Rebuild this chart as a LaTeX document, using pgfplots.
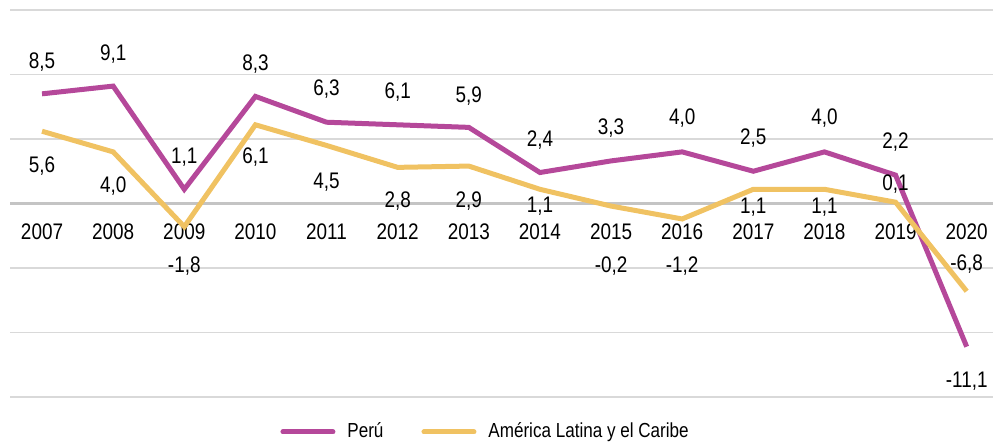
\documentclass[border=0pt]{standalone}
\usepackage{fontspec}
\setmainfont[FakeStretch=0.84]{Liberation Sans}
\usepackage{pgfplots}
\usepackage{pgfplotstable}
\pgfplotsset{compat=1.18}

\definecolor{peru}{HTML}{B5489A}
\definecolor{alc}{HTML}{F0C262}
\definecolor{gridc}{HTML}{D9D9D9}
\definecolor{zeroc}{HTML}{C4C4C4}

% years are plotted at 0..13 (2007..2020)
\pgfplotstableread{
x y
0 8.5
1 9.1
2 1.1
3 8.3
4 6.3
5 6.1
6 5.9
7 2.4
8 3.3
9 4.0
10 2.5
11 4.0
12 2.2
13 -11.1
}\tperu

\pgfplotstableread{
x y
0 5.6
1 4.0
2 -1.8
3 6.1
4 4.5
5 2.8
6 2.9
7 1.1
8 -0.2
9 -1.2
10 1.1
11 1.1
12 0.1
13 -6.8
}\talc

% label positions (data units) and texts
\pgfplotstableread{
x y lab
0 11.0 8,5
1 11.55 9,1
2 3.57 1,1
3 10.78 8,3
4 8.84 6,3
5 8.6 6,1
6 8.3 5,9
7 4.88 2,4
8 5.81 3,3
9 6.59 4,0
10 5.04 2,5
11 6.59 4,0
12 4.73 2,2
13 -13.8 -11,1
}\lperu

\pgfplotstableread{
x y lab
0 2.87 5,6
1 1.32 4,0
2 -4.88 -1,8
3 3.57 6,1
4 1.63 4,5
5 0.16 2,8
6 0.16 2,9
7 -0.23 1,1
8 -4.88 -0,2
9 -4.88 -1,2
10 -0.31 1,1
11 -0.31 1,1
12 1.47 0,1
13 -4.73 -6,8
}\lalc

\begin{document}
\begin{tikzpicture}
\begin{axis}[
    width=491.5bp, height=193.5bp, scale only axis,
    xmin=-0.45, xmax=13.37, ymin=-15, ymax=15,
    axis x line*=middle, axis y line*=left,
    axis line style={draw=none},
    xtick={0,...,13},
    xticklabels={2007,2008,2009,2010,2011,2012,2013,2014,2015,2016,2017,2018,2019,2020},
    xticklabel style={anchor=center, yshift=-14bp, font=\fontsize{11.3}{13}\selectfont},
    ytick={-15,-10,...,15}, yticklabels={},
    major tick length=0pt,
    ymajorgrids, grid style={gridc, line width=0.75bp},
    extra y ticks={0}, extra y tick labels={},
    extra y tick style={grid style={zeroc, line width=1.2bp}},
    clip=false,
    legend columns=2,
    legend style={at={(0.2747,-0.0904)}, anchor=west, draw=none, fill=none,
        inner sep=0pt, font=\fontsize{10.2}{12}\selectfont,
        /tikz/every odd column/.append style={column sep=4bp},
        /tikz/every even column/.append style={column sep=17bp}},
    legend image code/.code={\draw[#1, line width=2.5bp, line cap=round] (0bp,0bp) -- (25bp,0bp);},
    nodes near coords style={anchor=center, font=\fontsize{11.3}{13}\selectfont, text=black},
]
\addplot[peru, line width=2.5bp, mark=none] table[x=x, y=y] {\tperu};
\addlegendentry{Perú}
\addplot[alc, line width=2.5bp, mark=none] table[x=x, y=y] {\talc};
\addlegendentry{América Latina y el Caribe}

\addplot[draw=none, mark=none, forget plot, nodes near coords, point meta=explicit symbolic]
    table[x=x, y=y, meta=lab] {\lperu};
\addplot[draw=none, mark=none, forget plot, nodes near coords, point meta=explicit symbolic]
    table[x=x, y=y, meta=lab] {\lalc};

\coordinate (bl) at (rel axis cs:-0.0102,-0.1163);
\coordinate (tr) at (rel axis cs:1,1.0258);
\end{axis}
\pgfresetboundingbox
\useasboundingbox (bl) rectangle (tr);
\end{tikzpicture}
\end{document}
